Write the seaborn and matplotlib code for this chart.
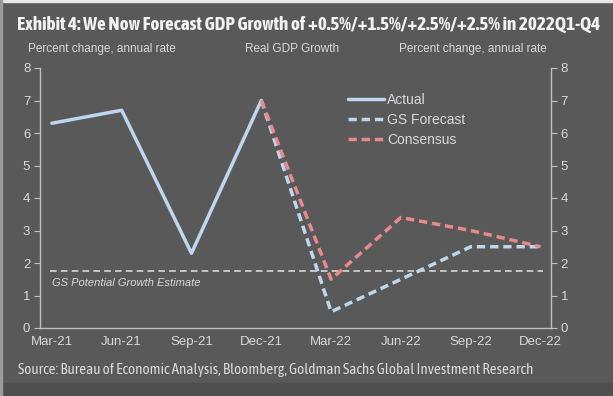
import matplotlib
matplotlib.use("Agg")
import matplotlib.pyplot as plt
import matplotlib.patches as mpatches
import matplotlib.patheffects as pe
from matplotlib import font_manager
import seaborn as sns
import pandas as pd

# quarters on the x axis
quarters = ["Mar-21", "Jun-21", "Sep-21", "Dec-21", "Mar-22", "Jun-22", "Sep-22", "Dec-22"]

# real GDP growth, percent change annual rate
actual = [6.3, 6.7, 2.3, 7.0, None, None, None, None]
gs_forecast = [None, None, None, 7.0, 0.5, 1.5, 2.5, 2.5]
consensus = [None, None, None, 7.0, 1.5, 3.4, 3.0, 2.5]
potential_growth = 1.75

BG = "#595959"
AXIS = "#bfbfbf"
TXT = "#d9d9d9"
BLUE = "#bdd7ee"
RED = "#e8898b"

sns.set_style("dark", {"axes.facecolor": BG, "figure.facecolor": BG})
plt.rcParams["font.family"] = ["Liberation Sans", "DejaVu Sans"]

# look for a narrow face for title and source line (prefer one with a bold cut)
narrow, narrow_bold = None, False
for f in font_manager.fontManager.ttflist:
    if "Narrow" in f.name or "Condensed" in f.name:
        has_bold = isinstance(f.weight, int) and f.weight >= 600 or f.weight == "bold"
        if narrow is None or (has_bold and not narrow_bold):
            narrow, narrow_bold = f.name, has_bold

df = pd.DataFrame({"x": range(len(quarters)), "quarter": quarters,
                   "Actual": actual, "GS Forecast": gs_forecast, "Consensus": consensus})

fig = plt.figure(figsize=(6.13, 3.96), dpi=100)
fig.patch.set_facecolor(BG)
# darker strip at the bottom and light top/left edge
fig.patches.append(mpatches.Rectangle((0, 0), 1, 13 / 396, transform=fig.transFigure,
                                      color="#4f4f4f", zorder=0))
fig.patches.append(mpatches.Rectangle((0, 1 - 2 / 396), 1, 2 / 396, transform=fig.transFigure,
                                      color="#e6e6e6", zorder=0))
fig.patches.append(mpatches.Rectangle((0, 0), 2 / 613, 1, transform=fig.transFigure,
                                      color="#9a9a9a", zorder=0))

ax = fig.add_axes([40 / 613, 1 - 328 / 396, 511 / 613, 260 / 396])
ax.set_facecolor(BG)

ax.axhline(potential_growth, xmin=0.02, xmax=0.985, color="#d6d6d6", lw=1.2,
           ls=(0, (4, 2.5)), zorder=1)
ax.text(0, potential_growth - 0.2, "GS Potential Growth Estimate", style="italic",
        color=TXT, fontsize=8, va="top", ha="left")

sns.lineplot(data=df, x="x", y="Actual", ax=ax, color=BLUE, lw=2.5, label="Actual")
sns.lineplot(data=df, x="x", y="GS Forecast", ax=ax, color=BLUE, lw=2.5,
             ls=(0, (2.4, 1.4)), label="GS Forecast")
sns.lineplot(data=df, x="x", y="Consensus", ax=ax, color=RED, lw=2.5,
             ls=(0, (2.4, 1.4)), label="Consensus")

ax.set_xlim(-0.15, 7.15)
ax.set_ylim(0, 8)
ax.set_xlabel("")
ax.set_ylabel("")
ax.set_xticks(range(len(quarters)))
ax.set_xticklabels(quarters)
ax.set_xticks([i - 0.17 for i in range(len(quarters))], minor=True)
ax.tick_params(axis="x", which="major", length=0, pad=6, labelsize=9.5, labelcolor=TXT)
ax.tick_params(axis="x", which="minor", length=4, direction="in", color=AXIS, width=1)
ax.set_yticks(range(0, 9))
ax.tick_params(axis="y", length=4, direction="out", color=AXIS, labelsize=9.5,
               labelcolor=TXT, pad=3, left=True)
ax.grid(False)
for side in ["left", "bottom"]:
    ax.spines[side].set_visible(True)
    ax.spines[side].set_color(AXIS)
    ax.spines[side].set_linewidth(1)
for side in ["top", "right"]:
    ax.spines[side].set_visible(False)

ax2 = ax.twinx()
ax2.set_ylim(0, 8)
ax2.set_yticks(range(0, 9))
ax2.tick_params(axis="y", length=4, direction="out", color=AXIS, labelsize=9.5,
                labelcolor=TXT, pad=3, right=True)
ax2.grid(False)
for side in ["left", "top", "bottom"]:
    ax2.spines[side].set_visible(False)
ax2.spines["right"].set_visible(True)
ax2.spines["right"].set_color(AXIS)
ax2.spines["right"].set_linewidth(1)

leg = ax.legend(loc="upper left", bbox_to_anchor=(0.592, 0.925), frameon=False,
                fontsize=10, handlelength=2.6, handletextpad=0.2, labelspacing=0.42,
                borderaxespad=0)
for t in leg.get_texts():
    t.set_color(TXT)

if narrow is not None:
    title_font = dict(family=[narrow, "DejaVu Sans"], fontsize=13.8)
    src_font = dict(family=[narrow, "DejaVu Sans"], fontsize=10.9)
else:
    title_font = dict(family=["Liberation Sans", "DejaVu Sans"], fontsize=10.5)
    src_font = dict(family=["Liberation Sans", "DejaVu Sans"], fontsize=8.6)

title = fig.text(17 / 613, 1 - 25 / 396,
                 "Exhibit 4: We Now Forecast GDP Growth of +0.5%/+1.5%/+2.5%/+2.5% in 2022Q1-Q4",
                 weight="bold", color="#f2f2f2", va="center", ha="left", **title_font)
if not narrow_bold:
    title.set_path_effects([pe.withStroke(linewidth=0.7, foreground="#f2f2f2")])
fig.text(28 / 613, 1 - 49 / 396, "Percent change, annual rate", fontsize=8.5,
         color=TXT, va="center", ha="left")
fig.text(292 / 613, 1 - 49 / 396, "Real GDP Growth", fontsize=8.5,
         color=TXT, va="center", ha="center")
fig.text(547 / 613, 1 - 49 / 396, "Percent change, annual rate", fontsize=8.5,
         color=TXT, va="center", ha="right")
fig.text(18 / 613, 1 - 370 / 396,
         "Source: Bureau of Economic Analysis, Bloomberg, Goldman Sachs Global Investment Research",
         color=TXT, va="center", ha="left", **src_font)

fig.savefig("out.png", dpi=100, facecolor=fig.get_facecolor())
